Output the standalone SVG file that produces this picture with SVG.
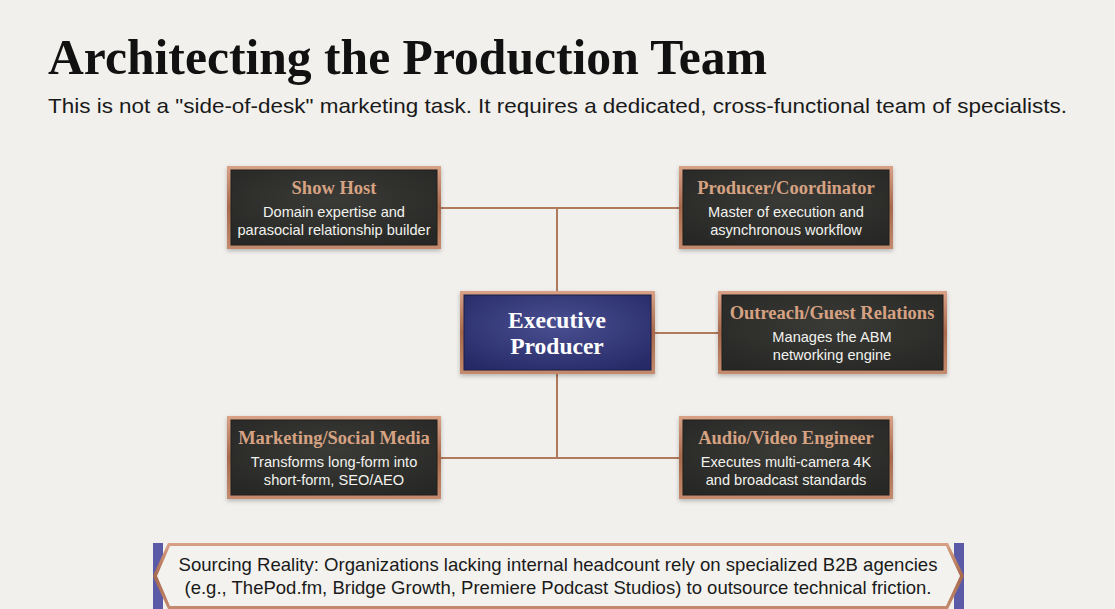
<svg xmlns="http://www.w3.org/2000/svg" width="1115" height="609" viewBox="0 0 1115 609">
<defs>
<linearGradient id="copper" x1="0" y1="0" x2="0" y2="1">
<stop offset="0" stop-color="#d9a287"/>
<stop offset="0.5" stop-color="#a8694d"/>
<stop offset="1" stop-color="#c48b6e"/>
</linearGradient>
<radialGradient id="dark" cx="0.5" cy="0.4" r="0.7">
<stop offset="0" stop-color="#3a3b37"/>
<stop offset="1" stop-color="#272825"/>
</radialGradient>
<radialGradient id="navy" cx="0.5" cy="0.4" r="0.7">
<stop offset="0" stop-color="#4a4f92"/>
<stop offset="1" stop-color="#262a66"/>
</radialGradient>
<filter id="sh" x="-10%" y="-10%" width="120%" height="130%">
<feDropShadow dx="0" dy="2" stdDeviation="2" flood-color="#000" flood-opacity="0.25"/>
</filter>
</defs>
<style>
.bg{fill:#f1f0ec}
.frame{fill:url(#copper);filter:url(#sh)}
.inner{fill:url(#dark);stroke:#1e1f1c;stroke-width:1}
.nt{font-family:"Liberation Serif",serif;font-weight:bold;font-size:18.5px;fill:#d6a282;text-anchor:middle}
.nb{font-family:"Liberation Sans",Arial,sans-serif;font-size:14.6px;fill:#f2f2ee;text-anchor:middle}
.conn{stroke:#b07a5c;stroke-width:2;fill:none}
</style>
<rect class="bg" x="0" y="0" width="1115" height="609"/>
<text x="48" y="74" font-family="Liberation Serif,serif" font-weight="bold" font-size="51" fill="#111" textLength="719" lengthAdjust="spacingAndGlyphs">Architecting the Production Team</text>
<text x="48" y="113" font-family="Liberation Sans,Arial,sans-serif" font-size="21" fill="#1a1a1a" textLength="1019" lengthAdjust="spacingAndGlyphs">This is not a "side-of-desk" marketing task. It requires a dedicated, cross-functional team of specialists.</text>
<g id="connectors">
<path class="conn" d="M440 208 H680"/>
<path class="conn" d="M557 208 V292"/>
<path class="conn" d="M557 373 V458"/>
<path class="conn" d="M440 458 H680"/>
<path class="conn" d="M654 333 H719"/>
</g>
<g id="show-host">
<rect class="frame" x="227" y="166" width="214" height="83"/>
<rect class="inner" x="231" y="170" width="206" height="75"/>
<text class="nt" x="334" y="194">Show Host</text>
<text class="nb" x="334" y="217">Domain expertise and</text>
<text class="nb" x="334" y="235">parasocial relationship builder</text>
</g>
<g id="producer-coordinator">
<rect class="frame" x="679" y="166" width="214" height="83"/>
<rect class="inner" x="683" y="170" width="206" height="75"/>
<text class="nt" x="786" y="194">Producer/Coordinator</text>
<text class="nb" x="786" y="217">Master of execution and</text>
<text class="nb" x="786" y="235">asynchronous workflow</text>
</g>
<g id="executive-producer">
<rect class="frame" x="460" y="291" width="195" height="83"/>
<rect fill="url(#navy)" stroke="#1a1c44" x="464" y="295" width="187" height="75"/>
<text x="557" y="328" font-family="Liberation Serif,serif" font-weight="bold" font-size="23.5" fill="#fff" text-anchor="middle">Executive</text>
<text x="557" y="354" font-family="Liberation Serif,serif" font-weight="bold" font-size="23.5" fill="#fff" text-anchor="middle">Producer</text>
</g>
<g id="outreach">
<rect class="frame" x="718" y="291" width="229" height="83"/>
<rect class="inner" x="722" y="295" width="221" height="75"/>
<text class="nt" x="832" y="319">Outreach/Guest Relations</text>
<text class="nb" x="832" y="342">Manages the ABM</text>
<text class="nb" x="832" y="360">networking engine</text>
</g>
<g id="marketing">
<rect class="frame" x="227" y="416" width="214" height="83"/>
<rect class="inner" x="231" y="420" width="206" height="75"/>
<text class="nt" x="334" y="444">Marketing/Social Media</text>
<text class="nb" x="334" y="467">Transforms long-form into</text>
<text class="nb" x="334" y="485">short-form, SEO/AEO</text>
</g>
<g id="audio-video">
<rect class="frame" x="679" y="416" width="214" height="83"/>
<rect class="inner" x="683" y="420" width="206" height="75"/>
<text class="nt" x="786" y="444">Audio/Video Engineer</text>
<text class="nb" x="786" y="467">Executes multi-camera 4K</text>
<text class="nb" x="786" y="485">and broadcast standards</text>
</g>
<g id="sourcing-reality">
<rect x="153" y="543" width="10" height="66" fill="#5a5aa6"/>
<rect x="954" y="543" width="10" height="66" fill="#5a5aa6"/>
<path d="M168 543 H948 L964 576 L948 609 H168 L153 576 Z" fill="url(#copper)"/>
<path d="M170 546 H946 L960 576 L946 606 H170 L157 576 Z" fill="#f3f2ee"/>
<text x="558" y="571" font-family="Liberation Sans,Arial,sans-serif" font-size="19" fill="#1a1a1a" text-anchor="middle" textLength="759" lengthAdjust="spacingAndGlyphs">Sourcing Reality: Organizations lacking internal headcount rely on specialized B2B agencies</text>
<text x="558" y="594" font-family="Liberation Sans,Arial,sans-serif" font-size="19" fill="#1a1a1a" text-anchor="middle" textLength="747" lengthAdjust="spacingAndGlyphs">(e.g., ThePod.fm, Bridge Growth, Premiere Podcast Studios) to outsource technical friction.</text>
</g>
</svg>
